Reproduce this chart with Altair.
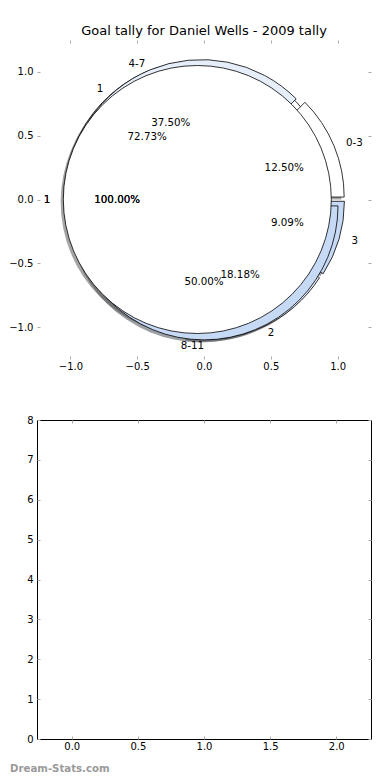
import math
import altair as alt
import pandas as pd

TITLE = "Goal tally for Daniel Wells - 2009 tally"
WATERMARK = ["Dream-Stats.com"]

# wedges of the three overlaid pies, in drawing order (first = bottom)
pie1_labels = ["1", "2", "3"]
pie1_counts = [8, 2, 1]
pie2_labels = ["0-3", "4-7", "8-11"]
pie2_counts = [1, 3, 4]
pie3_labels = ["1"]
pie3_counts = [1]

top_ticks = [-1.0, -0.5, 0.0, 0.5, 1.0]
bottom_x_ticks = [0.0, 0.5, 1.0, 1.5, 2.0]
bottom_y_ticks = [0, 1, 2, 3, 4, 5, 6, 7, 8]
bottom_positions = [0, 1, 2]
bottom_counts = [0, 0, 0]

PALETTE = ["#ffffff", "#e6eefa", "#c6d9f5"]
EXPLODE = 0.05
SHADOW_OFF = 0.02
R_PX = 134
FONT = "DejaVu Sans"
PLOT_W = 334
PLOT_H = 319


def shade(hex_color, k=0.3):
    r, g, b = (int(hex_color[i:i + 2], 16) for i in (1, 3, 5))
    return "#%02x%02x%02x" % (int(r * k), int(g * k), int(b * k))


rows = []
for pie_no, (labels, counts) in enumerate(
        [(pie1_labels, pie1_counts), (pie2_labels, pie2_counts), (pie3_labels, pie3_counts)], start=1):
    total = sum(counts)
    cum = 0
    for i, (lab, c) in enumerate(zip(labels, counts)):
        f0 = cum / total
        cum += c
        f1 = cum / total
        mid = math.pi * (f0 + f1)
        cx = EXPLODE * math.cos(mid)
        cy = EXPLODE * math.sin(mid)
        lx = cx + 1.1 * math.cos(mid)
        ly = cy + 1.1 * math.sin(mid)
        rows.append(dict(
            pie=pie_no, label=lab, f0=f0, f1=f1, cx=cx, cy=cy,
            sx=cx - SHADOW_OFF, sy=cy - SHADOW_OFF,
            lx=lx, ly=ly,
            px=cx + 0.6 * math.cos(mid), py=cy + 0.6 * math.sin(mid),
            pct="%.2f%%" % (100.0 * c / total),
            side="left" if lx > 0 else "right",
            fill=PALETTE[i % len(PALETTE)],
            shadow=shade(PALETTE[i % len(PALETTE)]),
        ))
wedges = pd.DataFrame(rows)

xs_top = alt.Scale(domain=[-1.25, 1.25], nice=False, zero=False)
ys_top = alt.Scale(domain=[-1.25, 1.25], nice=False, zero=False)
theta_scale = alt.Scale(domain=[0, 1], range=[math.pi / 2, math.pi / 2 - 2 * math.pi])

TICK = dict(tickSize=3, offset=-3, tickColor="#aaaaaa", tickWidth=1, domain=False, grid=False,
            title=None, labelFont=FONT, labelFontSize=10, labelColor="black", labelOverlap=False)


def axis_layers(df, field_x, field_y, xscale, yscale, xvals, yvals, xfmt, yfmt):
    main = alt.Chart(df).mark_point(opacity=0).encode(
        x=alt.X(f"{field_x}:Q", scale=xscale,
                axis=alt.Axis(orient="bottom", values=xvals, format=xfmt, labelPadding=2.5, **TICK)),
        y=alt.Y(f"{field_y}:Q", scale=yscale,
                axis=alt.Axis(orient="left", values=yvals, format=yfmt, labelPadding=4, **TICK)),
    )
    other = alt.Chart(df).mark_point(opacity=0).encode(
        x=alt.X(f"{field_x}:Q", scale=xscale,
                axis=alt.Axis(orient="top", values=xvals, labels=False, **TICK)),
        y=alt.Y(f"{field_y}:Q", scale=yscale,
                axis=alt.Axis(orient="right", values=yvals, labels=False, **TICK)),
    )
    return main, other


top_ax_df = pd.DataFrame({"vx": top_ticks, "vy": top_ticks})
top_ax1, top_ax2 = axis_layers(top_ax_df, "vx", "vy", xs_top, ys_top, top_ticks, top_ticks, ".1f", ".1f")

base = alt.Chart(wedges)
shadows = base.mark_arc(radius=R_PX, opacity=0.5, strokeWidth=0).encode(
    x=alt.X("sx:Q", scale=xs_top, axis=None),
    y=alt.Y("sy:Q", scale=ys_top, axis=None),
    theta=alt.Theta("f0:Q", scale=theta_scale, stack=None),
    theta2="f1:Q",
    color=alt.Color("shadow:N", scale=None),
)
slices = base.mark_arc(radius=R_PX, stroke="black", strokeWidth=0.8).encode(
    x=alt.X("cx:Q", scale=xs_top, axis=None),
    y=alt.Y("cy:Q", scale=ys_top, axis=None),
    theta=alt.Theta("f0:Q", scale=theta_scale, stack=None),
    theta2="f1:Q",
    color=alt.Color("fill:N", scale=None),
)


def text_layers(src):
    pcts = src.mark_text(font=FONT, fontSize=10.3, color="black", baseline="middle", align="center").encode(
        x=alt.X("px:Q", scale=xs_top, axis=None),
        y=alt.Y("py:Q", scale=ys_top, axis=None),
        text="pct:N",
    )
    names_l = src.transform_filter(alt.datum.side == "left").mark_text(
        font=FONT, fontSize=10.3, color="black", baseline="middle", align="left").encode(
        x=alt.X("lx:Q", scale=xs_top, axis=None),
        y=alt.Y("ly:Q", scale=ys_top, axis=None),
        text="label:N",
    )
    names_r = src.transform_filter(alt.datum.side == "right").mark_text(
        font=FONT, fontSize=10.3, color="black", baseline="middle", align="right").encode(
        x=alt.X("lx:Q", scale=xs_top, axis=None),
        y=alt.Y("ly:Q", scale=ys_top, axis=None),
        text="label:N",
    )
    return [pcts, names_l, names_r]


# the full-circle pie's texts look heavier in the reference (overprinted)
over = alt.Chart(wedges).transform_filter(alt.datum.pie == 3)

top = alt.layer(top_ax1, top_ax2, shadows, slices, *text_layers(base), *text_layers(over)).resolve_axis(
    x="independent", y="independent"
).properties(
    width=PLOT_W, height=PLOT_H,
    title=alt.TitleParams(TITLE, font=FONT, fontSize=13, fontWeight="normal", color="black",
                          anchor="middle", baseline="alphabetic", offset=-8),
    view=alt.ViewBackground(stroke="transparent"),
)

xs_bot = alt.Scale(domain=[-0.225, 2.225], nice=False, zero=False)
ys_bot = alt.Scale(domain=[0, 8], nice=False, zero=False)
bot_ax_df = pd.DataFrame({"vx": bottom_x_ticks + [2.0] * 4, "vy": bottom_y_ticks})
bot_ax1, bot_ax2 = axis_layers(bot_ax_df, "vx", "vy", xs_bot, ys_bot, bottom_x_ticks, bottom_y_ticks, ".1f", "d")

bars = alt.Chart(pd.DataFrame({"pos": bottom_positions, "cnt": bottom_counts})).mark_bar(
    color="#c6d9f5", size=1).encode(
    x=alt.X("pos:Q", scale=xs_bot, axis=None),
    y=alt.Y("cnt:Q", scale=ys_bot, axis=None),
)
mark_wm = alt.Chart(pd.DataFrame({"t": WATERMARK})).mark_text(
    font=FONT, fontSize=10.2, fontWeight="bold", color="#9a9a9a", align="left", baseline="middle").encode(
    x=alt.value(-27), y=alt.value(349), text="t:N")

bottom = alt.layer(bot_ax1, bot_ax2, bars, mark_wm).resolve_axis(
    x="independent", y="independent"
).properties(
    width=PLOT_W, height=PLOT_H,
    view=alt.ViewBackground(stroke="black", strokeWidth=1),
)

chart = alt.vconcat(top, bottom, spacing=42).properties(
    padding={"left": 0, "top": 16, "right": 0, "bottom": 0},
    background="white",
).configure(font=FONT)

chart.save("out.html", embed_options={"renderer": "svg", "actions": False})
